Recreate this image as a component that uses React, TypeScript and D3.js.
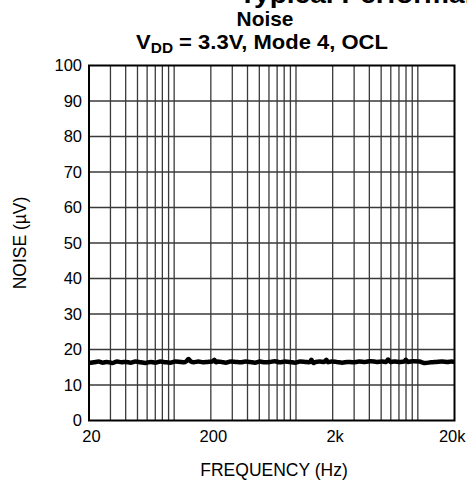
import React from "react";
import * as d3 from "d3";

const W = 467;
const H = 487;

const titleTop = "Typical Performance Characteristics";
const titleMain = "Noise";
const xAxisTitle = "FREQUENCY (Hz)";
const yAxisTitle = "NOISE (\u00B5V)";

const xTickValues = [20, 200, 2000, 20000];
const xTickLabels = ["20", "200", "2k", "20k"];
const yTickValues = [0, 10, 20, 30, 40, 50, 60, 70, 80, 90, 100];

const noiseFreq = [
  20, 22, 24, 26, 28, 31, 34, 37, 40, 44, 48, 53, 58, 64, 70, 77, 85, 93, 102, 112,
  120, 126, 131, 137, 145, 158, 172, 188, 205, 214, 220, 228, 245, 265, 290, 320,
  350, 385, 420, 460, 505, 555, 610, 670, 735, 810, 890, 980, 1080, 1190, 1290,
  1340, 1380, 1450, 1560, 1700, 1780, 1830, 1950, 2150, 2400, 2650, 2950, 3300,
  3700, 4100, 4600, 5100, 5500, 5700, 5950, 6400, 7200, 7750, 7950, 8300, 9200,
  10300, 11500, 12800, 14200, 15800, 17500, 19000, 20000,
];
const noiseValues = [
  16.2, 16.4, 16.6, 16.3, 16.5, 16.2, 16.6, 16.4, 16.5, 16.3, 16.6, 16.4, 16.2, 16.5,
  16.3, 16.6, 16.4, 16.3, 16.6, 16.5, 16.4, 16.7, 17.3, 16.6, 16.4, 16.6, 16.4, 16.5,
  16.6, 17.1, 16.4, 16.6, 16.5, 16.3, 16.6, 16.5, 16.4, 16.6, 16.5, 16.3, 16.6, 16.4,
  16.5, 16.7, 16.4, 16.6, 16.5, 16.3, 16.6, 16.5, 16.4, 17.1, 16.2, 16.5, 16.6, 16.5,
  17.1, 16.4, 16.6, 16.5, 16.3, 16.5, 16.4, 16.6, 16.5, 16.7, 16.5, 16.6, 16.5, 17.2,
  16.5, 16.6, 16.5, 16.6, 17.1, 16.5, 16.7, 16.6, 16.2, 16.4, 16.5, 16.6, 16.5, 16.6,
  16.5,
];

const plot = { left: 89, right: 454.5, top: 65.5, bottom: 420.5 };
const FONT = "'Liberation Sans', Arial, Helvetica, sans-serif";

export default function App() {
  const x = d3.scaleLog().domain([20, 20000]).range([plot.left, plot.right]);
  const y = d3.scaleLinear().domain([0, 100]).range([plot.bottom, plot.top]);
  const gridX = x.ticks().filter((t) => t > 20 && t < 20000);
  const gridY = yTickValues.filter((v) => v > 0 && v < 100);

  const data = noiseFreq.map((f, i) => [f, noiseValues[i]] as [number, number]);
  const line = d3
    .line<[number, number]>()
    .x((d) => x(d[0]))
    .y((d) => y(d[1]))
    .curve(d3.curveMonotoneX);

  return (
    <svg
      width={W}
      height={H}
      style={{ position: "absolute", left: 0, top: 0, background: "#fff" }}
      fontFamily={FONT}
    >
      <rect x={0} y={0} width={W} height={H} fill="#fff" />
      {/* titles */}
      <text transform="translate(239,2.5) scale(1.08,1)" fontSize={26} fontWeight="bold" fill="#000">
        {titleTop}
      </text>
      <text transform="translate(265,26) scale(1.07,1)" fontSize={19.5} fontWeight="bold" textAnchor="middle" fill="#000">
        {titleMain}
      </text>
      <text transform="translate(262,48.5) scale(1.1,1)" fontSize={20} fontWeight="bold" textAnchor="middle" fill="#000">
        V<tspan fontSize={14} dy={4}>DD</tspan>
        <tspan dy={-4}> = 3.3V, Mode 4, OCL</tspan>
      </text>

      {/* grid */}
      {gridX.map((t) => (
        <line key={"gx" + t} x1={x(t)} x2={x(t)} y1={plot.top} y2={plot.bottom} stroke="#3a3a3a" strokeWidth={1.3} />
      ))}
      {gridY.map((v) => (
        <line key={"gy" + v} x1={plot.left} x2={plot.right} y1={y(v)} y2={y(v)} stroke="#3a3a3a" strokeWidth={1.3} />
      ))}

      {/* data */}
      <path d={line(data) || ""} fill="none" stroke="#000" strokeWidth={4.5} strokeLinejoin="round" />

      {/* frame */}
      <rect
        x={plot.left}
        y={plot.top}
        width={plot.right - plot.left}
        height={plot.bottom - plot.top}
        fill="none"
        stroke="#000"
        strokeWidth={2}
      />

      {/* y tick labels */}
      {yTickValues.map((v) => (
        <text key={"yl" + v} x={plot.left - 7} y={y(v)} dy="0.36em" fontSize={16.5} textAnchor="end" fill="#000">
          {v}
        </text>
      ))}
      {/* x tick labels */}
      {xTickValues.map((t, i) => {
        const last = i === xTickValues.length - 1;
        return (
          <text
            key={"xl" + t}
            x={last ? x(t) + 11 : x(t) + 2.5}
            y={442}
            fontSize={16.5}
            textAnchor={last ? "end" : "middle"}
            fill="#000"
          >
            {xTickLabels[i]}
          </text>
        );
      })}

      {/* axis titles */}
      <text x={274} y={476} fontSize={17.5} textAnchor="middle" fill="#000">
        {xAxisTitle}
      </text>
      <text
        transform={`translate(26, 243) rotate(-90)`}
        fontSize={17.5}
        textAnchor="middle"
        fill="#000"
      >
        {yAxisTitle}
      </text>
    </svg>
  );
}
